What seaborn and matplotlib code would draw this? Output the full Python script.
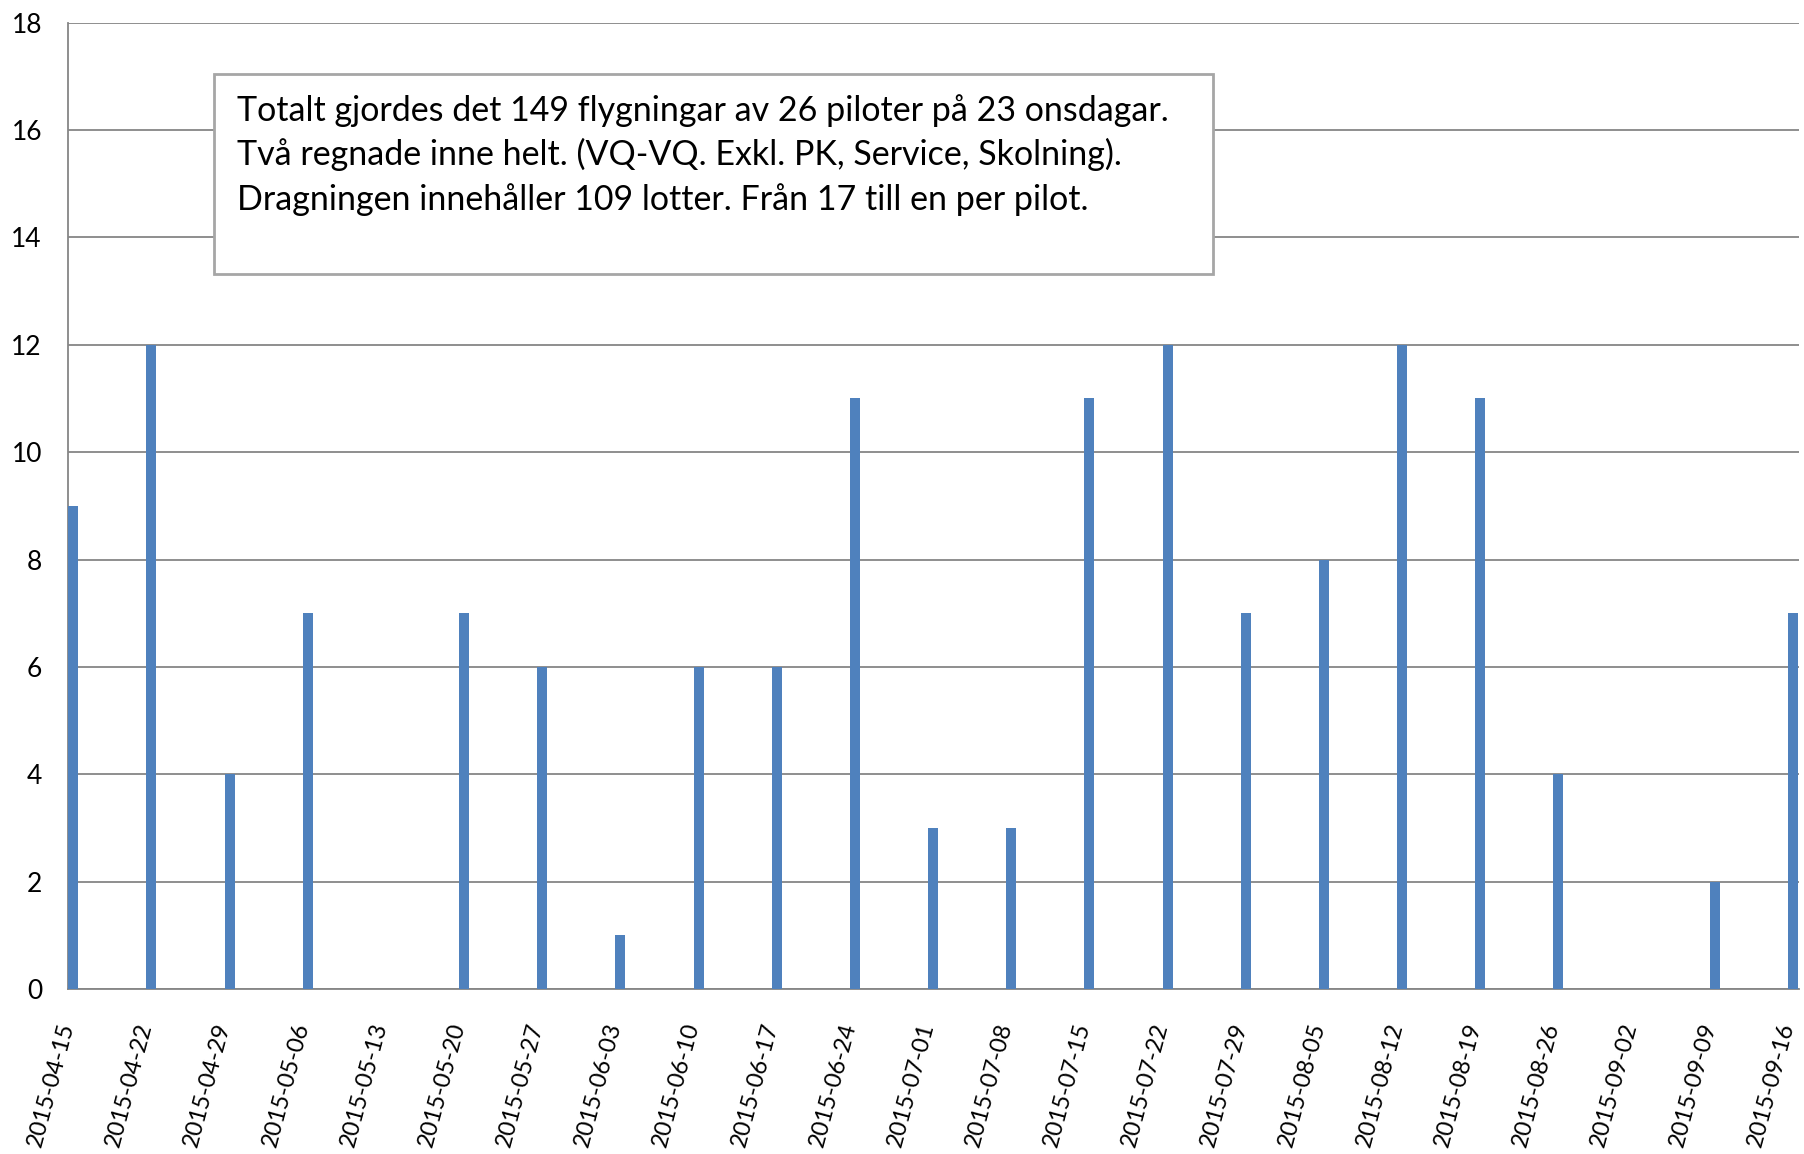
"""
Weekly flights per Wednesday, 2015 season, drawn as thin bars on a date axis
with a note box in the upper left.
"""

import matplotlib
matplotlib.use("Agg")
import matplotlib.pyplot as plt
import matplotlib.dates as mdates
from matplotlib.patches import Rectangle
from matplotlib.transforms import ScaledTranslation
import pandas as pd
import seaborn as sns

DPI = 100
WIDTH, HEIGHT = 1804, 1154
OUTPUT_FILE = "out.png"

BAR_COLOR = "#4F81BD"
GRID_COLOR = "#868686"
FONT = ["Lato", "DejaVu Sans"]

# data
DATES = ["2015-04-15", "2015-04-22", "2015-04-29", "2015-05-06", "2015-05-13",
         "2015-05-20", "2015-05-27", "2015-06-03", "2015-06-10", "2015-06-17",
         "2015-06-24", "2015-07-01", "2015-07-08", "2015-07-15", "2015-07-22",
         "2015-07-29", "2015-08-05", "2015-08-12", "2015-08-19", "2015-08-26",
         "2015-09-02", "2015-09-09", "2015-09-16"]
FLIGHTS = [9, 12, 4, 7, 0, 7, 6, 1, 6, 6, 11, 3, 3, 11, 12, 7, 8, 12, 11, 4,
           0, 2, 7]
Y_TICKS = list(range(0, 19, 2))

NOTE_LINES = [
    "Totalt gjordes det 149 flygningar av 26 piloter på 23 onsdagar.",
    "Två regnade inne helt. (VQ-VQ. Exkl. PK, Service, Skolning).",
    "Dragningen innehåller 109 lotter. Från 17 till en per pilot.",
]


def px(x, y):
    """pixel position (from top left) -> figure fraction"""
    return x / WIDTH, 1 - y / HEIGHT


def main():
    sns.set_style("white")
    plt.rcParams["font.family"] = FONT

    dates = pd.to_datetime(DATES)
    day_num = mdates.date2num(dates)
    # Excel date axis: each bar fills its own day, starting at the tick
    df = pd.DataFrame({"x": day_num + 0.5, "flights": FLIGHTS})

    fig = plt.figure(figsize=(WIDTH / DPI, HEIGHT / DPI), dpi=DPI)
    left, top = px(67.7, 22.7)
    right, bottom = px(1798.5, 989)
    ax = fig.add_axes([left, bottom, right - left, top - bottom])

    sns.barplot(data=df, x="x", y="flights", native_scale=True,
                width=0.9 / 7, color=BAR_COLOR, saturation=1,
                linewidth=0, ax=ax, zorder=3)

    ax.set_xlim(day_num[0], day_num[-1] + 1)
    ax.set_ylim(0, 18)
    ax.set_yticks(Y_TICKS)
    ax.set_yticklabels([str(v) for v in Y_TICKS], fontsize=19)
    ax.set_xticks(day_num)
    ax.set_xticklabels(DATES, rotation=75, ha="right", va="center",
                       rotation_mode="anchor", fontsize=17)
    # labels sit a little right of and below the tick, like Excel does
    shift = ScaledTranslation(9 / DPI, 0, fig.dpi_scale_trans)
    for label in ax.get_xticklabels():
        label.set_transform(label.get_transform() + shift)
    ax.set_xlabel("")
    ax.set_ylabel("")

    ax.grid(axis="y", color=GRID_COLOR, linewidth=1.3, zorder=0)
    ax.grid(axis="x", visible=False)
    for side in ["top", "right"]:
        ax.spines[side].set_visible(False)
    for side in ["left", "bottom"]:
        ax.spines[side].set_color(GRID_COLOR)
        ax.spines[side].set_linewidth(1.3)
    ax.tick_params(axis="both", direction="out", length=9.5, width=1.3,
                   color=GRID_COLOR, labelcolor="#000000")
    ax.tick_params(axis="x", pad=15)
    ax.tick_params(axis="y", pad=9)

    # note box
    x0, y1 = px(214, 274)
    x1, y0 = px(1213, 73.6)
    fig.add_artist(Rectangle((x0, y1), x1 - x0, y0 - y1,
                             transform=fig.transFigure, facecolor="white",
                             edgecolor="#A6A6A6", linewidth=2, zorder=10))
    for i, line in enumerate(NOTE_LINES):
        tx, ty = px(237, 110.5 + 44.3 * i)
        fig.text(tx, ty, line, fontsize=24.5, va="center", ha="left",
                 color="#000000", zorder=11)

    plt.savefig(OUTPUT_FILE, dpi=DPI)
    plt.close()


if __name__ == "__main__":
    main()
